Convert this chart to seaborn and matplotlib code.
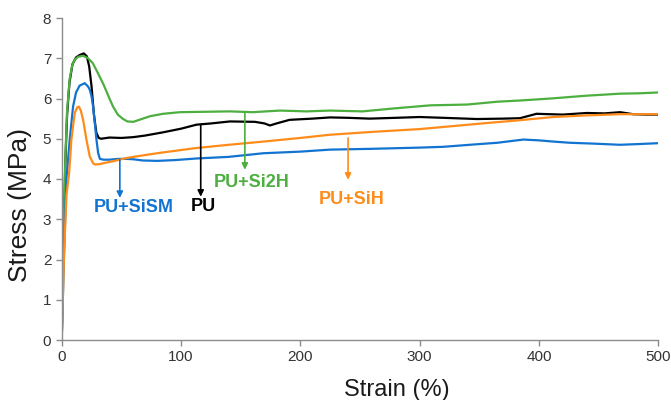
import numpy as np
import pandas as pd
import matplotlib
matplotlib.use("Agg")
import matplotlib.pyplot as plt
import seaborn as sns

# strain (%) / stress (MPa)
pu_x = [0, 1.5, 3, 4.5, 6.5, 9, 12, 15, 18.5, 21, 23, 25, 27, 29, 31, 33, 40, 50, 60, 70, 85,
        100, 113, 125, 141, 162, 170, 174.5, 180, 191, 210, 225, 240, 258, 280, 300, 320, 348,
        370, 384, 398, 420, 440, 455, 468, 479, 490, 500]
pu_y = [0, 2.5, 4.4, 5.6, 6.4, 6.85, 7.02, 7.08, 7.12, 7.05, 6.8, 6.3, 5.6, 5.15, 5.02, 5.0,
        5.03, 5.02, 5.04, 5.08, 5.16, 5.25, 5.35, 5.38, 5.43, 5.42, 5.38, 5.33, 5.38, 5.47, 5.5,
        5.53, 5.52, 5.5, 5.52, 5.54, 5.52, 5.49, 5.5, 5.51, 5.62, 5.6, 5.64, 5.63, 5.66, 5.61,
        5.6, 5.6]

si2h_x = [0, 1.5, 3, 4.5, 6.7, 9, 11, 14, 18, 22, 26, 30, 35, 40, 43, 47, 51, 55, 60, 65, 74,
          85, 99, 120, 141, 160, 183, 205, 225, 252, 281, 309, 340, 365, 384, 410, 440, 468,
          485, 500]
si2h_y = [0, 2.6, 4.5, 5.7, 6.5, 6.85, 6.97, 7.04, 7.06, 7.0, 6.88, 6.65, 6.35, 6.0, 5.8, 5.6,
          5.5, 5.43, 5.42, 5.47, 5.56, 5.62, 5.66, 5.67, 5.68, 5.66, 5.7, 5.68, 5.7, 5.68, 5.76,
          5.83, 5.85, 5.92, 5.95, 6.0, 6.07, 6.12, 6.13, 6.15]

sism_x = [0, 2, 3.9, 6.7, 9.5, 12, 15, 19.3, 22, 23.5, 25, 26.3, 27.7, 29.1, 30.5, 32, 35, 40,
          48, 54, 60, 68, 80, 95, 113, 140, 169, 200, 225, 260, 300, 320, 342, 365, 387, 400,
          412, 426, 445, 468, 485, 500]
sism_y = [0, 2.2, 3.98, 4.98, 5.8, 6.15, 6.32, 6.38, 6.3, 6.22, 6.05, 5.8, 5.4, 4.98, 4.65,
          4.5, 4.48, 4.48, 4.5, 4.5, 4.49, 4.46, 4.45, 4.47, 4.51, 4.55, 4.64, 4.68, 4.73, 4.75,
          4.78, 4.8, 4.85, 4.9, 4.98, 4.96, 4.93, 4.9, 4.88, 4.85, 4.87, 4.89]

sih_x = [0, 2, 4, 6.2, 8.1, 10.9, 13, 14.3, 16, 17.9, 20.7, 23.5, 26.3, 28, 31.9, 36, 43, 54,
         64.5, 80, 100, 113, 140, 169, 200, 225, 260, 300, 330, 356, 380, 412, 440, 468, 500]
sih_y = [0, 2.2, 3.6, 4.15, 4.98, 5.64, 5.78, 5.8, 5.7, 5.47, 4.98, 4.56, 4.39, 4.36, 4.37,
         4.4, 4.44, 4.52, 4.57, 4.64, 4.72, 4.77, 4.85, 4.93, 5.02, 5.1, 5.17, 5.24, 5.32, 5.39,
         5.45, 5.54, 5.58, 5.61, 5.61]

samples = ["PU", "PU+Si2H", "PU+SiSM", "PU+SiH"]
colors = {"PU": "#000000", "PU+Si2H": "#4caf3f", "PU+SiSM": "#1274d0", "PU+SiH": "#ff8c1a"}

frames = []
for name, xs, ys in [("PU", pu_x, pu_y), ("PU+Si2H", si2h_x, si2h_y),
                     ("PU+SiSM", sism_x, sism_y), ("PU+SiH", sih_x, sih_y)]:
    frames.append(pd.DataFrame({"strain": xs, "stress": ys, "sample": name}))
df = pd.concat(frames, ignore_index=True)

# label text, arrow start/end, text position (data units)
labels = {
    "PU+SiSM": ((48.7, 4.48), (48.7, 3.53), (60, 3.28)),
    "PU": ((116.5, 5.35), (116.5, 3.56), (119, 3.31)),
    "PU+Si2H": ((153.5, 5.67), (153.5, 4.23), (159, 3.91)),
    "PU+SiH": ((240, 5.02), (240, 3.98), (243, 3.5)),
}

sns.set_style("white")
plt.rcParams["font.family"] = ["Liberation Sans", "DejaVu Sans"]

fig, ax = plt.subplots(figsize=(6.71, 4.0), dpi=100)
fig.subplots_adjust(left=0.092, right=0.981, bottom=0.15, top=0.955)

sns.lineplot(data=df, x="strain", y="stress", hue="sample", hue_order=samples,
             palette=colors, sort=False, estimator=None, legend=False, linewidth=1.6, ax=ax)

for name, (start, end, txt) in labels.items():
    c = colors[name]
    ax.annotate("", xy=end, xytext=start,
                arrowprops=dict(arrowstyle="-|>", color=c, lw=1.2, mutation_scale=9,
                                shrinkA=0, shrinkB=0))
    ax.text(txt[0], txt[1], name, color=c, fontsize=13, fontweight="bold",
            ha="center", va="center")

ax.set_xlim(0, 500)
ax.set_ylim(0, 8)
ax.set_xticks(range(0, 501, 100))
ax.set_yticks(range(0, 9))
ax.set_xlabel("Strain (%)", fontsize=17, color="#1a1a1a")
ax.set_ylabel("Stress (MPa)", fontsize=19, color="#1a1a1a")
ax.xaxis.set_label_coords(0.562, -0.122)
ax.yaxis.set_label_coords(-0.05, 0.42)

sns.despine(ax=ax)
for side in ["left", "bottom"]:
    ax.spines[side].set_color("#8c8c8c")
    ax.spines[side].set_linewidth(1.0)
ax.tick_params(axis="both", direction="out", length=4, width=1, color="#8c8c8c",
               labelsize=11, labelcolor="#333333", left=True, bottom=True)

plt.savefig("out.png", dpi=100)
